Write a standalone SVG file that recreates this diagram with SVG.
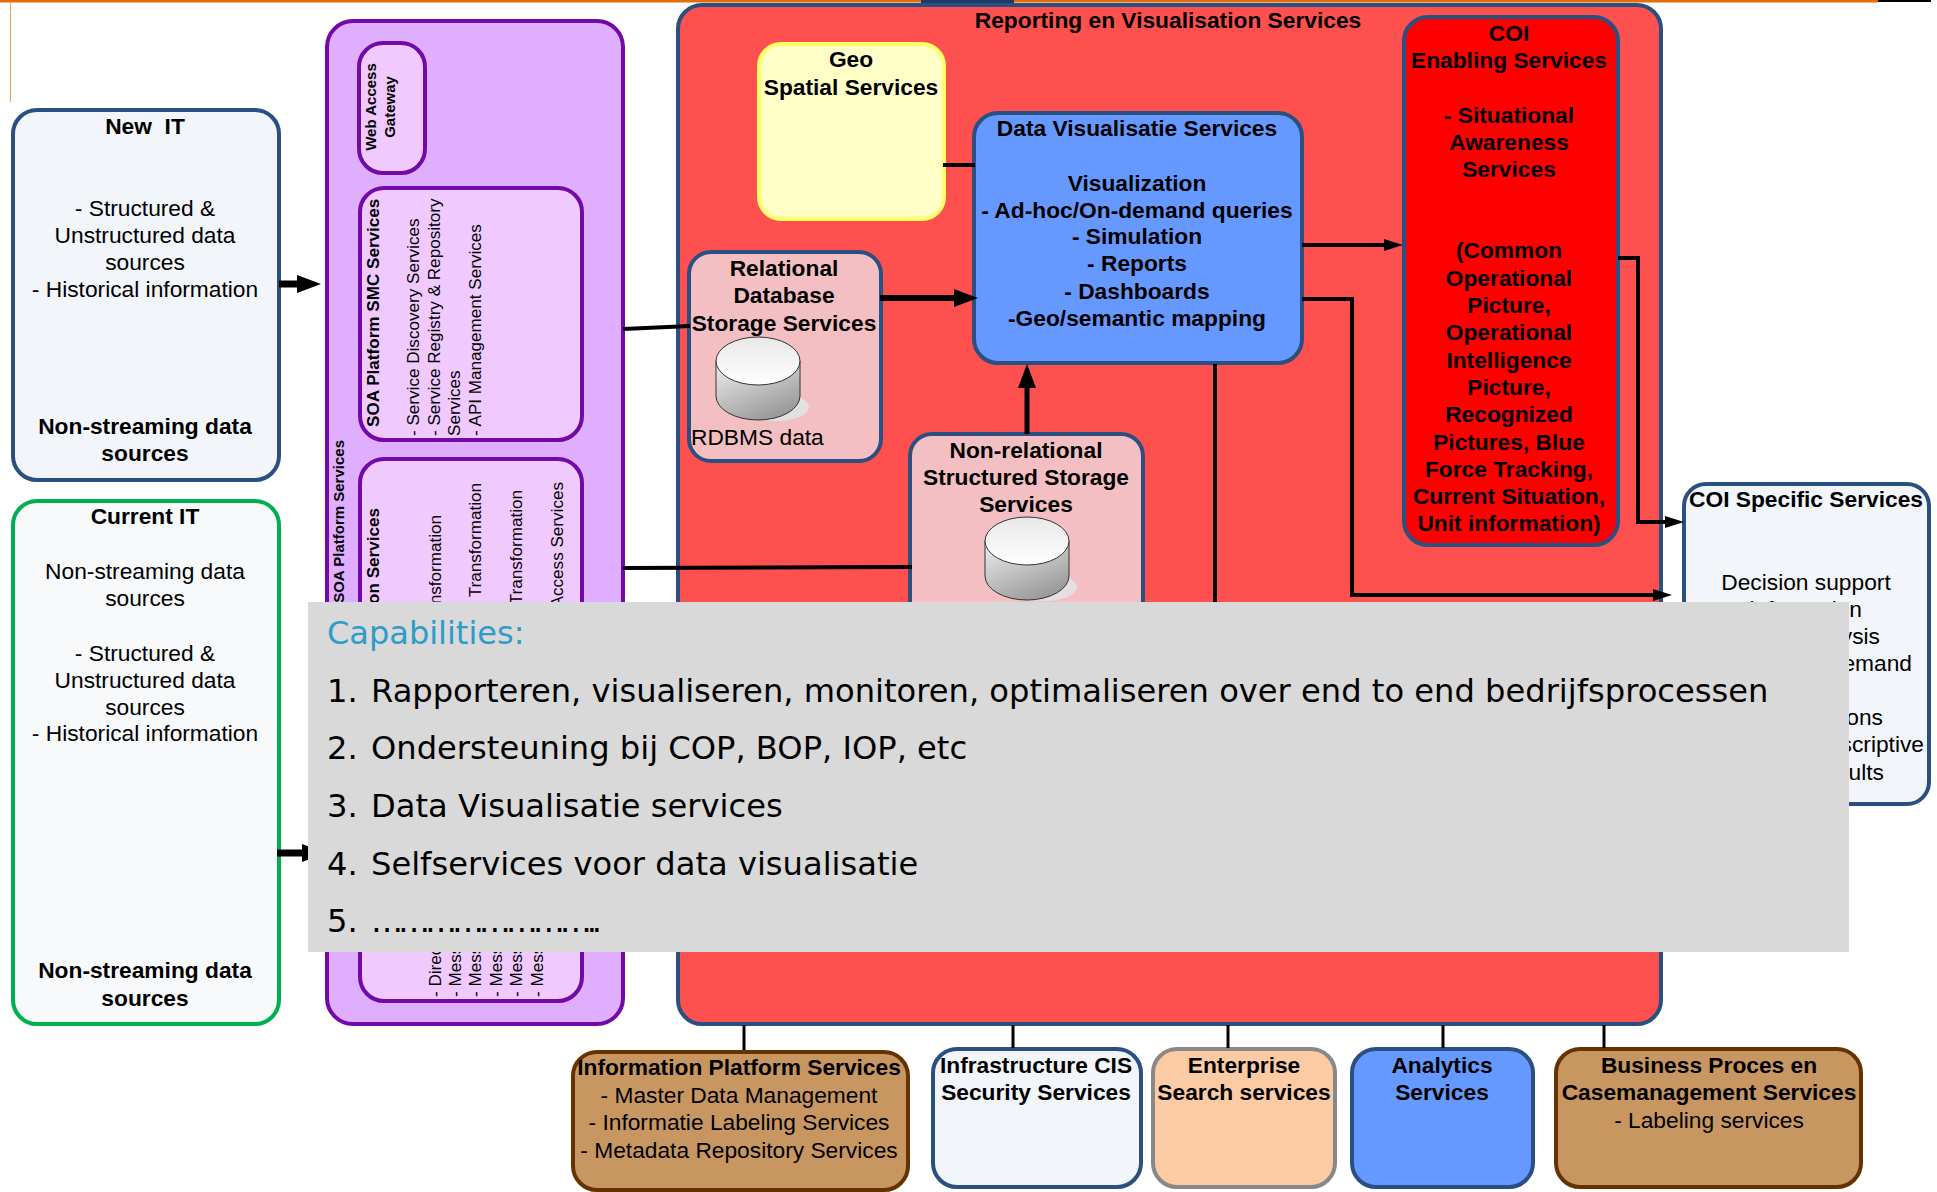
<svg xmlns="http://www.w3.org/2000/svg" width="1937" height="1192" viewBox="0 0 1937 1192">
<style>
text{font-family:"Liberation Sans",Arial,sans-serif;font-size:22.75px;fill:#000}
.m{text-anchor:middle}
.e{text-anchor:end}
.b{font-weight:bold}
.blue{stroke:#2a5082;stroke-width:4}
.pur{stroke:#7209a8;stroke-width:4}
.brown{stroke:#663300;stroke-width:4;fill:#c89660}
.in{fill:#f0c9ff}
.v{font-size:17.1px}
.c{font-family:"DejaVu Sans",Verdana,sans-serif;font-size:32.15px}
.ln{fill:none;stroke:#000;stroke-linejoin:miter}
.cyl{stroke:#333;stroke-width:1}
</style>
<defs>
<marker id="big" markerUnits="userSpaceOnUse" markerWidth="24" markerHeight="18" refX="0" refY="9" orient="auto"><path d="M0 0L24 9L0 18Z" fill="#000"/></marker>
<marker id="small" markerUnits="userSpaceOnUse" markerWidth="19" markerHeight="12" refX="0" refY="6" orient="auto"><path d="M0 0L19 6L0 12Z" fill="#000"/></marker>
<linearGradient id="side" x1="0" y1="0" x2="0.6" y2="1"><stop offset="0" stop-color="#f0f0f0"/><stop offset="1" stop-color="#9a9a9a"/></linearGradient>
<linearGradient id="top" x1="0" y1="0" x2="0" y2="1"><stop offset="0" stop-color="#e8e8e8"/><stop offset="1" stop-color="#fff"/></linearGradient>
</defs>

<g id="frame">
<rect x="0" y="0" width="1878" height="2.5" fill="#e46c0a"/>
<rect x="1878" y="0" width="53" height="2" fill="#000"/>
<rect x="921" y="0" width="93" height="3" fill="#1f3a63"/>
<rect x="10" y="2" width="1" height="100" fill="#f0a050"/>
</g>

<g id="new-it">
<rect x="13" y="110" width="266" height="370" rx="24" fill="#f2f5f9" class="blue"/>
<text x="145" y="134" class="m b" xml:space="preserve">New  IT</text>
<text x="145" y="216" class="m">- Structured &amp;</text>
<text x="145" y="243" class="m">Unstructured data</text>
<text x="145" y="270" class="m">sources</text>
<text x="145" y="297" class="m">- Historical information</text>
<text x="145" y="434" class="m b">Non-streaming data</text>
<text x="145" y="461" class="m b">sources</text>
</g>

<g id="current-it">
<rect x="13" y="501" width="266" height="523" rx="24" fill="#f7f9fb" stroke="#00b050" stroke-width="4"/>
<text x="145" y="524" class="m b">Current IT</text>
<text x="145" y="579" class="m">Non-streaming data</text>
<text x="145" y="606" class="m">sources</text>
<text x="145" y="661" class="m">- Structured &amp;</text>
<text x="145" y="688" class="m">Unstructured data</text>
<text x="145" y="715" class="m">sources</text>
<text x="145" y="741" class="m">- Historical information</text>
<text x="145" y="978" class="m b">Non-streaming data</text>
<text x="145" y="1006" class="m b">sources</text>
</g>

<g id="soa-platform">
<rect x="327" y="21" width="296" height="1003" rx="26" fill="#e0aeff" class="pur"/>
<text transform="translate(344 440) rotate(-90)" class="e b" style="font-size:15px">SOA Platform Services</text>
</g>
<g id="web-access-gateway">
<rect x="359" y="43" width="66" height="130" rx="24" class="in pur"/>
<text transform="translate(376 107) rotate(-90)" class="m b" style="font-size:15px">Web Access</text>
<text transform="translate(395 107) rotate(-90)" class="m b" style="font-size:15px">Gateway</text>
</g>
<g id="soa-smc">
<rect x="360" y="188" width="222" height="252" rx="24" class="in pur"/>
<text transform="translate(379 427) rotate(-90)" class="b v">SOA Platform SMC Services</text>
<text transform="translate(419 436) rotate(-90)" class="v">- Service Discovery Services</text>
<text transform="translate(440 436) rotate(-90)" class="v">- Service Registry &amp; Repository</text>
<text transform="translate(460 436) rotate(-90)" class="v">Services</text>
<text transform="translate(481 436) rotate(-90)" class="v">- API Management Services</text>
</g>
<g id="soa-integration">
<rect x="360" y="459" width="222" height="542" rx="24" class="in pur"/>
<text transform="translate(379 508) rotate(-90)" class="e b v">on Services</text>
<text transform="translate(441 515) rotate(-90)" class="e v">nsformation</text>
<text transform="translate(481 483) rotate(-90)" class="e v">Transformation</text>
<text transform="translate(522 490) rotate(-90)" class="e v">Transformation</text>
<text transform="translate(563 482) rotate(-90)" class="e v">Access Services</text>
<text transform="translate(441 997) rotate(-90)" class="v">- Direc</text>
<text transform="translate(461 997) rotate(-90)" class="v">- Mess</text>
<text transform="translate(481 997) rotate(-90)" class="v">- Mess</text>
<text transform="translate(502 997) rotate(-90)" class="v">- Mess</text>
<text transform="translate(522 997) rotate(-90)" class="v">- Mess</text>
<text transform="translate(543 997) rotate(-90)" class="v">- Mess</text>
</g>

<g id="reporting">
<rect x="678" y="5" width="983" height="1019" rx="24" fill="#ff5050" class="blue"/>
<text x="1168" y="28" class="m b">Reporting en Visualisation Services</text>
</g>
<g id="geo-spatial">
<rect x="759" y="44" width="185" height="175" rx="22" fill="#ffffc8" stroke="#ffff66" stroke-width="4"/>
<text x="851" y="67" class="m b">Geo</text>
<text x="851" y="95" class="m b">Spatial Services</text>
</g>
<g id="data-visualisatie">
<rect x="974" y="113" width="328" height="250" rx="24" fill="#6699ff" class="blue"/>
<text x="1137" y="136" class="m b">Data Visualisatie Services</text>
<text x="1137" y="191" class="m b">Visualization</text>
<text x="1137" y="218" class="m b">- Ad-hoc/On-demand queries</text>
<text x="1137" y="244" class="m b">- Simulation</text>
<text x="1137" y="271" class="m b">- Reports</text>
<text x="1137" y="299" class="m b">- Dashboards</text>
<text x="1137" y="326" class="m b">-Geo/semantic mapping</text>
</g>
<g id="relational">
<rect x="689" y="252" width="192" height="209" rx="22" fill="#f4bfc2" class="blue"/>
<text x="784" y="276" class="m b">Relational</text>
<text x="784" y="303" class="m b">Database</text>
<text x="784" y="331" class="m b">Storage Services</text>
<ellipse cx="776" cy="407" rx="33" ry="14" fill="#e4e0e0"/>
<path d="M716 361V396A42 24 0 0 0 800 396V361Z" fill="url(#side)" class="cyl"/>
<ellipse cx="758" cy="361" rx="42" ry="24" fill="url(#top)" class="cyl"/>
<text x="691" y="445">RDBMS data</text>
</g>
<g id="non-relational">
<rect x="910" y="434" width="233" height="261" rx="22" fill="#f4bfc2" class="blue"/>
<text x="1026" y="458" class="m b">Non-relational</text>
<text x="1026" y="485" class="m b">Structured Storage</text>
<text x="1026" y="512" class="m b">Services</text>
<ellipse cx="1044" cy="587" rx="33" ry="14" fill="#e4e0e0"/>
<path d="M985 541V576A42 24 0 0 0 1069 576V541Z" fill="url(#side)" class="cyl"/>
<ellipse cx="1027" cy="541" rx="42" ry="24" fill="url(#top)" class="cyl"/>
</g>
<g id="coi-enabling">
<rect x="1404" y="17" width="214" height="528" rx="24" fill="#f00" class="blue"/>
<text x="1509" y="41" class="m b">COI</text>
<text x="1509" y="68" class="m b">Enabling Services</text>
<text x="1509" y="123" class="m b">- Situational</text>
<text x="1509" y="150" class="m b">Awareness</text>
<text x="1509" y="177" class="m b">Services</text>
<text x="1509" y="258" class="m b">(Common</text>
<text x="1509" y="286" class="m b">Operational</text>
<text x="1509" y="313" class="m b">Picture,</text>
<text x="1509" y="340" class="m b">Operational</text>
<text x="1509" y="368" class="m b">Intelligence</text>
<text x="1509" y="395" class="m b">Picture,</text>
<text x="1509" y="422" class="m b">Recognized</text>
<text x="1509" y="450" class="m b">Pictures, Blue</text>
<text x="1509" y="477" class="m b">Force Tracking,</text>
<text x="1509" y="504" class="m b">Current Situation,</text>
<text x="1509" y="531" class="m b">Unit information)</text>
</g>
<g id="coi-specific">
<rect x="1684" y="484" width="245" height="320" rx="22" fill="#f2f5f9" class="blue"/>
<text x="1806" y="507" class="m b">COI Specific Services</text>
<text x="1806" y="590" class="m">Decision support</text>
<text x="1862" y="617" class="e">information</text>
<text x="1880" y="644" class="e">ysis</text>
<text x="1912" y="671" class="e">emand</text>
<text x="1883" y="725" class="e">ons</text>
<text x="1924" y="752" class="e">scriptive</text>
<text x="1884" y="780" class="e">ults</text>
</g>
<g id="information-platform">
<rect x="573" y="1052" width="335" height="138" rx="24" class="brown"/>
<text x="739" y="1075" class="m b">Information Platform Services</text>
<text x="739" y="1103" class="m">- Master Data Management</text>
<text x="739" y="1130" class="m">- Informatie Labeling Services</text>
<text x="739" y="1158" class="m">- Metadata Repository Services</text>
</g>
<g id="infrastructure">
<rect x="933" y="1049" width="208" height="138" rx="24" fill="#f2f5f9" class="blue"/>
<text x="1036" y="1073" class="m b">Infrastructure CIS</text>
<text x="1036" y="1100" class="m b">Security Services</text>
</g>
<g id="enterprise-search">
<rect x="1153" y="1049" width="182" height="138" rx="24" fill="#fccba4" stroke="#888" stroke-width="4"/>
<text x="1244" y="1073" class="m b">Enterprise</text>
<text x="1244" y="1100" class="m b">Search services</text>
</g>
<g id="analytics">
<rect x="1352" y="1049" width="181" height="138" rx="24" fill="#6699ff" class="blue"/>
<text x="1442" y="1073" class="m b">Analytics</text>
<text x="1442" y="1100" class="m b">Services</text>
</g>
<g id="business-proces">
<rect x="1556" y="1049" width="305" height="138" rx="24" class="brown"/>
<text x="1709" y="1073" class="m b">Business Proces en</text>
<text x="1709" y="1100" class="m b">Casemanagement Services</text>
<text x="1709" y="1128" class="m">- Labeling services</text>
</g>

<g id="connectors" class="ln">
<path d="M279 284H297" stroke-width="7" marker-end="url(#big)"/>
<path d="M277 853H302" stroke-width="7" marker-end="url(#big)"/>
<path d="M623 329L690 326" stroke-width="4"/>
<path d="M623 568L912 567" stroke-width="4"/>
<path d="M880 298H954" stroke-width="6" marker-end="url(#big)"/>
<path d="M943 165H975" stroke-width="4"/>
<path d="M1027 434V388" stroke-width="5" marker-end="url(#big)"/>
<path d="M1215 364V620" stroke-width="4"/>
<path d="M1302 245H1384" stroke-width="4" marker-end="url(#small)"/>
<path d="M1302 299H1352V595H1653" stroke-width="4" marker-end="url(#small)"/>
<path d="M1618 258H1638V522H1665" stroke-width="4" marker-end="url(#small)"/>
<path d="M744 1025V1050" stroke-width="3"/>
<path d="M1013 1025V1048" stroke-width="3"/>
<path d="M1228 1025V1048" stroke-width="3"/>
<path d="M1443 1025V1048" stroke-width="3"/>
<path d="M1604 1025V1048" stroke-width="3"/>
</g>

<g id="capabilities">
<rect x="308" y="602" width="1541" height="350" fill="#d9d9d9"/>
<text x="327" y="644" class="c" style="fill:#2e9bc9;font-size:32px">Capabilities:</text>
<text x="327" y="702" class="c">1.<tspan x="371">Rapporteren, visualiseren, monitoren, optimaliseren over end to end bedrijfsprocessen</tspan></text>
<text x="327" y="759" class="c">2.<tspan x="371">Ondersteuning bij COP, BOP, IOP, etc</tspan></text>
<text x="327" y="817" class="c">3.<tspan x="371">Data Visualisatie services</tspan></text>
<text x="327" y="875" class="c">4.<tspan x="371">Selfservices voor data visualisatie</tspan></text>
<text x="327" y="932" class="c">5.<tspan x="371" textLength="231">……………………..</tspan></text>
</g>
</svg>
